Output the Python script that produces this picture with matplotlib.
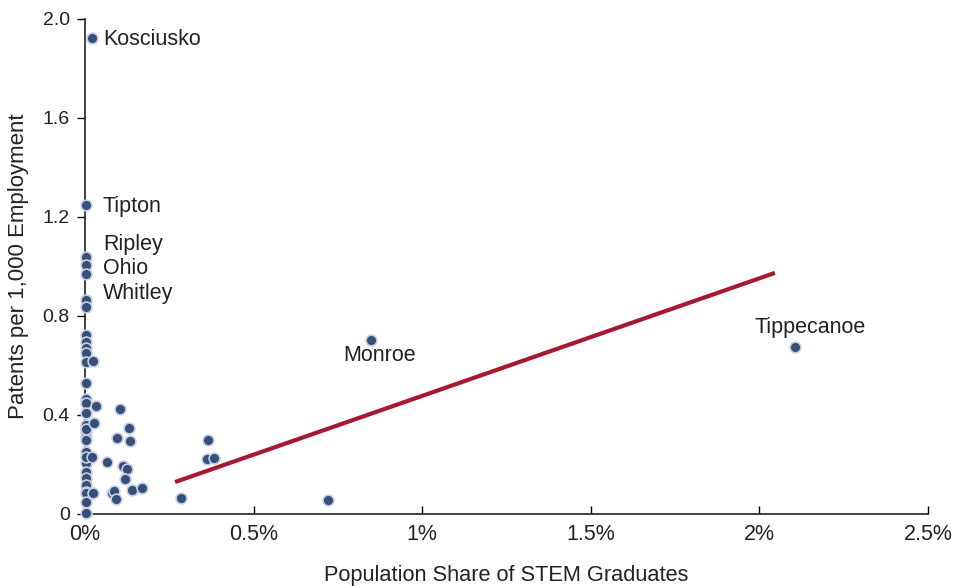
import numpy as np
import matplotlib.pyplot as plt

# county data: STEM grad share (%) vs patents per 1,000 employment
stem_share = [0.021, 0.003, 0.003, 0.003, 0.003, 0.003, 0.003, 0.848, 2.106,
              0.003, 0.003, 0.003, 0.003, 0.003, 0.003, 0.003, 0.003, 0.003,
              0.003, 0.003, 0.003, 0.003, 0.003, 0.003, 0.003, 0.003, 0.003,
              0.003, 0.003, 0.003, 0.003, 0.003, 0.003,
              0.023, 0.033, 0.028, 0.022, 0.025, 0.105, 0.096, 0.131, 0.132,
              0.065, 0.112, 0.124, 0.119, 0.081, 0.086, 0.092, 0.138, 0.168,
              0.286, 0.366, 0.361, 0.383, 0.720]
patents = [1.923, 1.250, 1.038, 1.006, 0.970, 0.865, 0.836, 0.703, 0.675,
           0.723, 0.696, 0.669, 0.649, 0.615, 0.528, 0.463, 0.447, 0.407,
           0.360, 0.333, 0.312, 0.299, 0.252, 0.205, 0.171, 0.144, 0.117,
           0.090, 0.084, 0.050, 0.003, 0.345, 0.230,
           0.620, 0.436, 0.366, 0.229, 0.086, 0.423, 0.306, 0.346, 0.294,
           0.210, 0.195, 0.180, 0.143, 0.086, 0.094, 0.059, 0.097, 0.106,
           0.063, 0.299, 0.221, 0.226, 0.057]

# fitted line endpoints
fit_x = [0.267, 2.046]
fit_y = [0.129, 0.974]

labels = ["Kosciusko", "Tipton", "Ripley", "Ohio", "Whitley", "Monroe", "Tippecanoe"]
label_x = [0.053, 0.053, 0.053, 0.053, 0.053, 0.765, 1.987]
label_y = [1.918, 1.242, 1.090, 0.990, 0.890, 0.640, 0.752]

yticks = [0, 0.4, 0.8, 1.2, 1.6, 2.0]
ytick_labels = ["0", "0.4", "0.8", "1.2", "1.6", "2.0"]
xticks = [0, 0.5, 1, 1.5, 2, 2.5]
xtick_labels = ["0%", "0.5%", "1%", "1.5%", "2%", "2.5%"]

plt.rcParams['font.family'] = ['Liberation Sans', 'DejaVu Sans']

txt = '#222222'
fig = plt.figure(figsize=(9.54, 5.88), dpi=100)
ax = fig.add_axes([0.0891, 0.1259, 0.8836, 0.8418])

ax.plot(fit_x, fit_y, color='#a6192e', lw=3, solid_capstyle='butt', zorder=2)
ax.scatter(stem_share, patents, s=60, color='#34507a', edgecolor='#c9cde0',
           linewidth=1.2, zorder=3, clip_on=False)

for name, lx, ly in zip(labels, label_x, label_y):
    ax.text(lx, ly, name, fontsize=15.5, color=txt, va='center', ha='left')

ax.set_xlim(0, 2.5)
ax.set_ylim(0, 2.0)
ax.set_yticks(yticks)
ax.set_yticklabels(ytick_labels, fontsize=14, color=txt)
ax.set_xticks(xticks)
ax.set_xticklabels(xtick_labels, fontsize=15.5, color=txt)
ax.tick_params(axis='y', direction='out', length=6, width=1, pad=5)
ax.tick_params(axis='x', direction='in', length=6, width=1, pad=7)

for s in ['top', 'right']:
    ax.spines[s].set_visible(False)
for s in ['left', 'bottom']:
    ax.spines[s].set_linewidth(1.2)
    ax.spines[s].set_color('#222222')

ax.set_ylabel("Patents per 1,000 Employment", fontsize=16, color=txt, labelpad=10)
ax.set_xlabel("Population Share of STEM Graduates", fontsize=15.7, color=txt)
ax.xaxis.set_label_coords(0.5, -0.125)
ax.xaxis.label.set_va('center')

fig.savefig("out.png", dpi=100)
